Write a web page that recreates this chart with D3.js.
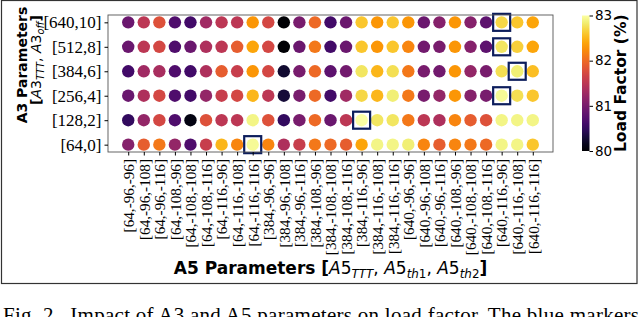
<!DOCTYPE html>
<html>
<head>
<meta charset="utf-8">
<style>
  body { margin: 0; background: #fff; }
  svg { display: block; }
  text { white-space: pre; }
</style>
<title>Impact of A3 and A5 parameters on load factor</title>
</head>
<body>
<svg id="chart"></svg>
<script src="https://cdn.jsdelivr.net/npm/d3@7/dist/d3.min.js"></script>
<script>

// ============ Data ============
// A5 settings [TTT, th1, th2] along x
var a5Labels = [
    '[64,-96,-96]', '[64,-96,-108]', '[64,-96,-116]',
    '[64,-108,-96]', '[64,-108,-108]', '[64,-108,-116]',
    '[64,-116,-96]', '[64,-116,-108]', '[64,-116,-116]',
    '[384,-96,-96]', '[384,-96,-108]', '[384,-96,-116]',
    '[384,-108,-96]', '[384,-108,-108]', '[384,-108,-116]',
    '[384,-116,-96]', '[384,-116,-108]', '[384,-116,-116]',
    '[640,-96,-96]', '[640,-96,-108]', '[640,-96,-116]',
    '[640,-108,-96]', '[640,-108,-108]', '[640,-108,-116]',
    '[640,-116,-96]', '[640,-116,-108]', '[640,-116,-116]'
];
// A3 settings [TTT, off] along y, bottom to top
var a3Labels = ['[64,0]', '[128,2]', '[256,4]', '[384,6]', '[512,8]', '[640,10]'];

// Load factor (%) per A3 row, one value per A5 column
var lf64_0 = [81.1, 81.9, 82.1, 81.2, 80.7, 81.6, 82.5, 82.2, 82.95, 82.2, 81.4, 81.6, 82.1, 82.0,
              81.9, 82.4, 82.9, 82.9, 82.85, 82.2, 81.9, 82.2, 82.1, 82.0, 82.9, 82.9, 82.6];
var lf128_2 = [80.5, 81.2, 81.7, 80.7, 80.1, 81.8, 81.5, 81.5, 82.9, 81.8, 80.5, 81.0, 82.0, 80.9,
               81.5, 83.0, 82.8, 82.8, 82.1, 81.5, 81.4, 82.2, 81.9, 81.8, 82.9, 82.9, 82.9];
var lf256_4 = [80.9, 81.4, 81.7, 80.7, 80.6, 81.2, 81.6, 81.7, 82.5, 81.5, 80.3, 81.0, 82.0, 80.6,
               81.3, 82.7, 82.5, 82.85, 82.1, 81.0, 81.2, 82.3, 81.1, 81.0, 82.95, 82.75, 82.6];
var lf384_6 = [80.6, 81.3, 81.35, 80.7, 80.6, 81.4, 81.9, 81.6, 82.3, 81.7, 80.25, 81.0, 82.0, 80.8,
               80.95, 82.8, 82.5, 82.75, 82.1, 81.0, 80.95, 82.3, 81.2, 81.0, 82.75, 82.85, 82.55];
var lf512_8 = [80.9, 81.5, 81.7, 80.7, 80.9, 81.4, 81.5, 81.9, 82.4, 81.7, 80.0, 80.9, 82.1, 80.6,
               80.9, 82.6, 82.3, 82.6, 82.2, 80.95, 81.0, 82.3, 81.1, 80.8, 82.8, 82.65, 82.4];
var lf640_10 = [80.9, 81.5, 81.8, 80.7, 80.6, 81.3, 81.5, 81.5, 82.3, 81.7, 80.0, 81.0, 82.0, 80.6,
                80.9, 82.6, 82.3, 82.6, 82.3, 80.9, 81.1, 82.3, 81.1, 80.8, 82.7, 82.6, 82.4];
var loadFactor = [lf64_0, lf128_2, lf256_4, lf384_6, lf512_8, lf640_10];

// Column of the blue marker (best A5 setting) per A3 row
var bestIndex = [8, 15, 24, 25, 24, 24];

var cbTicks = [80, 81, 82, 83];
var cbDomain = [80, 83];

var captionText = 'Fig. 2.  Impact of A3 and A5 parameters on load factor. The blue markers';

// ============ Layout ============
var W = 640, H = 317;
var plot = {left: 108, right: 553, top: 15, bottom: 152};
var cb = {left: 582, width: 7.5, top: 15.5, bottom: 151};
var SERIF = '"Liberation Serif", "Times New Roman", serif';
var SANS = '"DejaVu Sans", sans-serif';
var MARK_COLOR = '#0c1d5c';

var svg = d3.select('#chart')
    .attr('width', W)
    .attr('height', H)
    .style('background', '#fff');

var x = d3.scaleLinear()
    .domain([-1.3, a5Labels.length - 1 + 1.3])
    .range([plot.left, plot.right]);
var y = d3.scaleLinear()
    .domain([-0.3, a3Labels.length - 1 + 0.3])
    .range([plot.bottom, plot.top]);
var color = d3.scaleSequential(d3.interpolateInferno).domain(cbDomain);

// write text made of runs (bold / italic / subscript) into a text element
function addRuns(textSel, runs, size) {
    var shift = 0;
    runs.forEach(function(r) {
        var t = textSel.append('tspan').text(r.s);
        var target = r.sub ? size * 0.22 : 0;
        t.attr('dy', target - shift);
        shift = target;
        if (r.sub) t.attr('font-size', size * 0.7);
        if (r.b) t.attr('font-weight', 'bold');
        if (r.i) t.attr('font-style', 'italic');
    });
}

// ============ Figure frame ============
svg.append('rect')
    .attr('x', 1.5).attr('y', 0.5)
    .attr('width', 635.5).attr('height', 283)
    .attr('fill', 'none')
    .attr('stroke', '#333')
    .attr('stroke-width', 1.2);

// ============ Points ============
var points = [];
loadFactor.forEach(function(row, r) {
    row.forEach(function(v, c) { points.push({r: r, c: c, v: v}); });
});

svg.append('g')
    .selectAll('circle')
    .data(points)
    .enter()
    .append('circle')
        .attr('cx', d => x(d.c))
        .attr('cy', d => y(d.r))
        .attr('r', 6.2)
        .attr('fill', d => color(d.v));

// Blue markers on the best setting of each row
svg.append('g')
    .selectAll('rect')
    .data(bestIndex)
    .enter()
    .append('rect')
        .attr('x', (d, r) => x(d) - 8.5)
        .attr('y', (d, r) => y(r) - 8.5)
        .attr('width', 17)
        .attr('height', 17)
        .attr('fill', 'none')
        .attr('stroke', MARK_COLOR)
        .attr('stroke-width', 2.2);

// ============ Axes ============
svg.append('rect')
    .attr('x', plot.left).attr('y', plot.top)
    .attr('width', plot.right - plot.left)
    .attr('height', plot.bottom - plot.top)
    .attr('fill', 'none')
    .attr('stroke', '#555')
    .attr('stroke-width', 0.9);

var yAxis = d3.axisLeft(y)
    .tickValues(d3.range(a3Labels.length))
    .tickFormat(i => a3Labels[i])
    .tickSize(3.5)
    .tickPadding(3);
var gy = svg.append('g')
    .attr('transform', `translate(${plot.left}, 0)`)
    .call(yAxis);
gy.select('.domain').remove();
gy.attr('font-family', SERIF);
gy.selectAll('text')
    .attr('font-size', 17)
    .attr('fill', '#000');

var xAxis = d3.axisBottom(x)
    .tickValues(d3.range(a5Labels.length))
    .tickFormat(i => a5Labels[i])
    .tickSize(3.5);
var gx = svg.append('g')
    .attr('transform', `translate(0, ${plot.bottom})`)
    .call(xAxis);
gx.select('.domain').remove();
gx.attr('font-family', SERIF);
gx.selectAll('text')
    .attr('transform', 'rotate(-90)')
    .attr('x', -7)
    .attr('y', 0)
    .attr('dy', '0.35em')
    .attr('text-anchor', 'end')
    .attr('font-size', 15.2)
    .attr('fill', '#000');

// x-axis label
var xLabel = svg.append('text')
    .attr('x', (plot.left + plot.right) / 2)
    .attr('y', 274)
    .attr('text-anchor', 'middle')
    .attr('font-family', SANS)
    .attr('font-size', 17);
addRuns(xLabel, [
    {s: 'A5 Parameters [', b: 1},
    {s: 'A', i: 1}, {s: '5'}, {s: 'TTT', i: 1, sub: 1}, {s: ', '},
    {s: 'A', i: 1}, {s: '5'}, {s: 'th', i: 1, sub: 1}, {s: '1', sub: 1}, {s: ', '},
    {s: 'A', i: 1}, {s: '5'}, {s: 'th', i: 1, sub: 1}, {s: '2', sub: 1},
    {s: ']', b: 1}
], 17);

// y-axis label, two lines
svg.append('text')
    .attr('transform', 'translate(27, 65) rotate(-90)')
    .attr('text-anchor', 'middle')
    .attr('font-family', SANS)
    .attr('font-weight', 'bold')
    .attr('font-size', 14)
    .text('A3 Parameters');
var yLabel2 = svg.append('text')
    .attr('transform', 'translate(40.5, 60) rotate(-90)')
    .attr('text-anchor', 'middle')
    .attr('font-family', SANS)
    .attr('font-size', 14);
addRuns(yLabel2, [
    {s: '[', b: 1},
    {s: 'A', i: 1}, {s: '3'}, {s: 'TTT', i: 1, sub: 1}, {s: ', '},
    {s: 'A', i: 1}, {s: '3'}, {s: 'off', i: 1, sub: 1},
    {s: ']', b: 1}
], 14);

// ============ Colorbar ============
var grad = svg.append('defs')
    .append('linearGradient')
        .attr('id', 'cbGrad')
        .attr('x1', 0).attr('x2', 0)
        .attr('y1', 1).attr('y2', 0);
d3.range(0, 1.0001, 0.05).forEach(function(t) {
    grad.append('stop')
        .attr('offset', t)
        .attr('stop-color', d3.interpolateInferno(t));
});

var cbScale = d3.scaleLinear().domain(cbDomain).range([cb.bottom, cb.top]);
svg.append('rect')
    .attr('x', cb.left).attr('y', cb.top)
    .attr('width', cb.width)
    .attr('height', cb.bottom - cb.top)
    .attr('fill', 'url(#cbGrad)');

var gcb = svg.append('g')
    .attr('transform', `translate(${cb.left + cb.width}, 0)`)
    .call(d3.axisRight(cbScale).tickValues(cbTicks).tickFormat(d3.format('d'))
        .tickSize(3.5).tickPadding(2));
gcb.select('.domain').remove();
gcb.attr('font-family', SANS);
gcb.selectAll('text')
    .attr('font-size', 13.5)
    .attr('fill', '#000');

svg.append('text')
    .attr('transform', `translate(626, ${(cb.top + cb.bottom) / 2}) rotate(-90)`)
    .attr('text-anchor', 'middle')
    .attr('font-family', SANS)
    .attr('font-weight', 'bold')
    .attr('font-size', 15.5)
    .text('Load Factor (%)');

// ============ Caption ============
svg.append('text')
    .attr('x', 3)
    .attr('y', 321.5)
    .attr('font-family', SERIF)
    .attr('font-size', 21)
    .attr('textLength', 636)
    .attr('lengthAdjust', 'spacing')
    .text(captionText);

</script>
</body>
</html>
